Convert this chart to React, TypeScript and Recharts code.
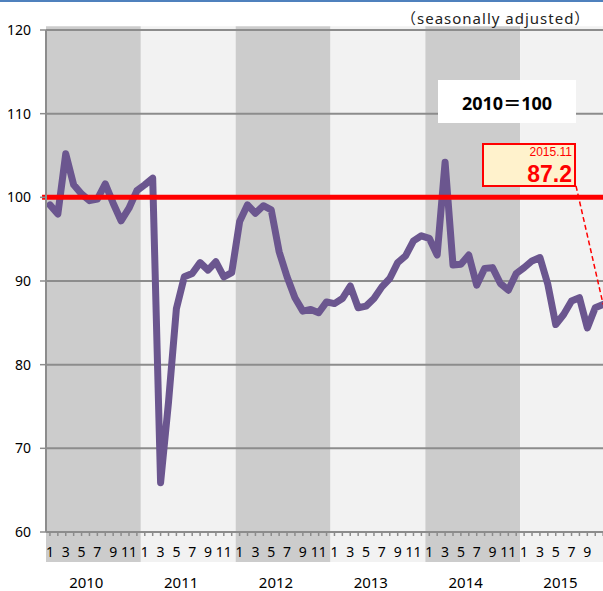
import {
	LineChart,
	Line,
	XAxis,
	YAxis,
	ReferenceArea,
	ReferenceLine,
} from "recharts";

const years = [2010, 2011, 2012, 2013, 2014, 2015];
const monthLabels = ["1", "2", "3", "4", "5", "6", "7", "8", "9", "10", "11", "12"];

// monthly index, 2010=100, seasonally adjusted
const v2010 = [99.1, 98.0, 105.2, 101.5, 100.4, 99.6, 99.8, 101.6, 99.3, 97.2, 98.7, 100.8];
const v2011 = [101.5, 102.3, 65.9, 75.5, 86.7, 90.5, 90.9, 92.2, 91.3, 92.3, 90.5, 91.0];
const v2012 = [97.1, 99.1, 98.1, 99.0, 98.5, 93.5, 90.5, 88.0, 86.4, 86.6, 86.2, 87.5];
const v2013 = [87.3, 87.9, 89.4, 86.8, 87.0, 87.9, 89.3, 90.3, 92.2, 93.0, 94.8, 95.4];
const v2014 = [95.1, 93.1, 104.2, 91.9, 92.0, 93.1, 89.5, 91.5, 91.6, 89.7, 88.9, 90.9];
const v2015 = [91.6, 92.4, 92.8, 89.6, 84.8, 86.0, 87.6, 88.0, 84.4, 86.8, 87.2];

const yTicks = [60, 70, 80, 90, 100, 110, 120];
const gridValues = [70, 80, 90, 110, 120];
const baseValue = 100;
const latestLabel = "2015.11";

const allValues = [...v2010, ...v2011, ...v2012, ...v2013, ...v2014, ...v2015];
const data = allValues.map((v, i) => ({ x: i + 0.5, v }));
const monthTicks = years.flatMap((_, yi) => monthLabels.map((_, m) => yi * 12 + m + 0.5));
const yearTicks = years.map((_, yi) => yi * 12 + 5.1);
const lastValue = allValues[allValues.length - 1];
const lastX = data[data.length - 1].x;

const font = "'Noto Sans', 'Noto Sans CJK JP', sans-serif";
const gray = "#8c8c8c";

export default function App() {
	return (
		<div
			style={{
				position: "absolute",
				left: 0,
				top: 0,
				width: 603,
				height: 591,
				overflow: "hidden",
				background: "#fff",
				fontFamily: font,
			}}
		>
			<div
				style={{
					position: "absolute",
					left: 0,
					top: 0,
					width: 603,
					height: 2,
					background: "#4f81bd",
				}}
			/>
			<LineChart
				width={640}
				height={591}
				data={data}
				margin={{ top: 30, right: 25, bottom: 0, left: 0 }}
			>
				{years.map((y, yi) => (
					<ReferenceArea
						key={y}
						xAxisId="m"
						x1={yi * 12}
						x2={yi * 12 + 12}
						y1={56.42}
						y2={120.45}
						fill={yi % 2 === 0 ? "#cccccc" : "#f2f2f2"}
						fillOpacity={1}
						stroke="none"
						ifOverflow="visible"
					/>
				))}
				{gridValues.map((g) => (
					<ReferenceLine
						key={g}
						xAxisId="m"
						y={g}
						stroke={gray}
						strokeWidth={2}
					/>
				))}
				<XAxis
					xAxisId="m"
					dataKey="x"
					type="number"
					domain={[0, 72]}
					allowDataOverflow
					ticks={monthTicks}
					interval={0}
					tickFormatter={(t: number) => {
						const idx = Math.floor(t);
						if (idx >= allValues.length - 1) return "";
						const m = idx % 12;
						return m % 2 === 0 ? monthLabels[m] : "";
					}}
					height={30}
					tickSize={4}
					tickMargin={11}
					axisLine={{ stroke: gray, strokeWidth: 2 }}
					tickLine={{ stroke: gray, strokeWidth: 1.5 }}
					tick={{ fontSize: 14, fill: "#000", fontFamily: font }}
				/>
				<XAxis
					xAxisId="year"
					dataKey="x"
					type="number"
					domain={[0, 72]}
					allowDataOverflow
					ticks={yearTicks}
					interval={0}
					tickFormatter={(t: number) => String(years[Math.floor(t / 12)])}
					height={29}
					tickSize={0}
					tickMargin={15}
					axisLine={false}
					tickLine={false}
					tick={{ fontSize: 15, fill: "#000", fontFamily: font }}
				/>
				<YAxis
					type="number"
					domain={[60, 120]}
					ticks={yTicks}
					interval={0}
					width={46}
					tickSize={6}
					tickMargin={9}
					axisLine={{ stroke: gray, strokeWidth: 2 }}
					tickLine={{ stroke: gray, strokeWidth: 1.5 }}
					tick={{ fontSize: 14, fill: "#000", fontFamily: font }}
				/>
				<Line
					xAxisId="m"
					type="linear"
					dataKey="v"
					stroke="#6b568f"
					strokeWidth={7}
					strokeLinejoin="round"
					strokeLinecap="round"
					dot={false}
					activeDot={false}
					isAnimationActive={false}
				/>
				<ReferenceLine
					xAxisId="m"
					segment={[
						{ x: -0.5, y: baseValue },
						{ x: 72, y: baseValue },
					]}
					stroke="#ff0000"
					strokeWidth={5}
					ifOverflow="visible"
				/>
				<ReferenceLine
					xAxisId="m"
					segment={[
						{ x: 66.84, y: 102.3 },
						{ x: lastX, y: lastValue },
					]}
					stroke="#ff0000"
					strokeWidth={1.5}
					strokeDasharray="5 3"
					ifOverflow="visible"
				/>
			</LineChart>

			<div
				style={{
					position: "absolute",
					left: 401,
					top: 7,
					fontSize: 15,
					letterSpacing: 1,
					color: "#222",
					whiteSpace: "nowrap",
				}}
			>
				（seasonally adjusted）
			</div>

			<div
				style={{
					position: "absolute",
					left: 438,
					top: 80,
					width: 138,
					height: 43,
					background: "#fff",
					display: "flex",
					alignItems: "center",
					justifyContent: "center",
					fontSize: 18,
					fontWeight: 700,
					color: "#000",
				}}
			>
				{`${years[0]}＝${baseValue}`}
			</div>

			<div
				style={{
					position: "absolute",
					left: 482,
					top: 143,
					width: 88,
					height: 40,
					background: "#fff2cc",
					border: "2px solid #ff0000",
					color: "#ff0000",
					textAlign: "right",
					paddingRight: 2,
					boxSizing: "content-box",
					fontFamily: "'Liberation Sans', Arial, sans-serif",
				}}
			>
				<div style={{ fontSize: 12, lineHeight: "14px" }}>{latestLabel}</div>
				<div
					style={{
						fontSize: 23,
						fontWeight: 700,
						lineHeight: "22px",
						marginTop: 4,
					}}
				>
					{lastValue.toFixed(1)}
				</div>
			</div>
		</div>
	);
}
